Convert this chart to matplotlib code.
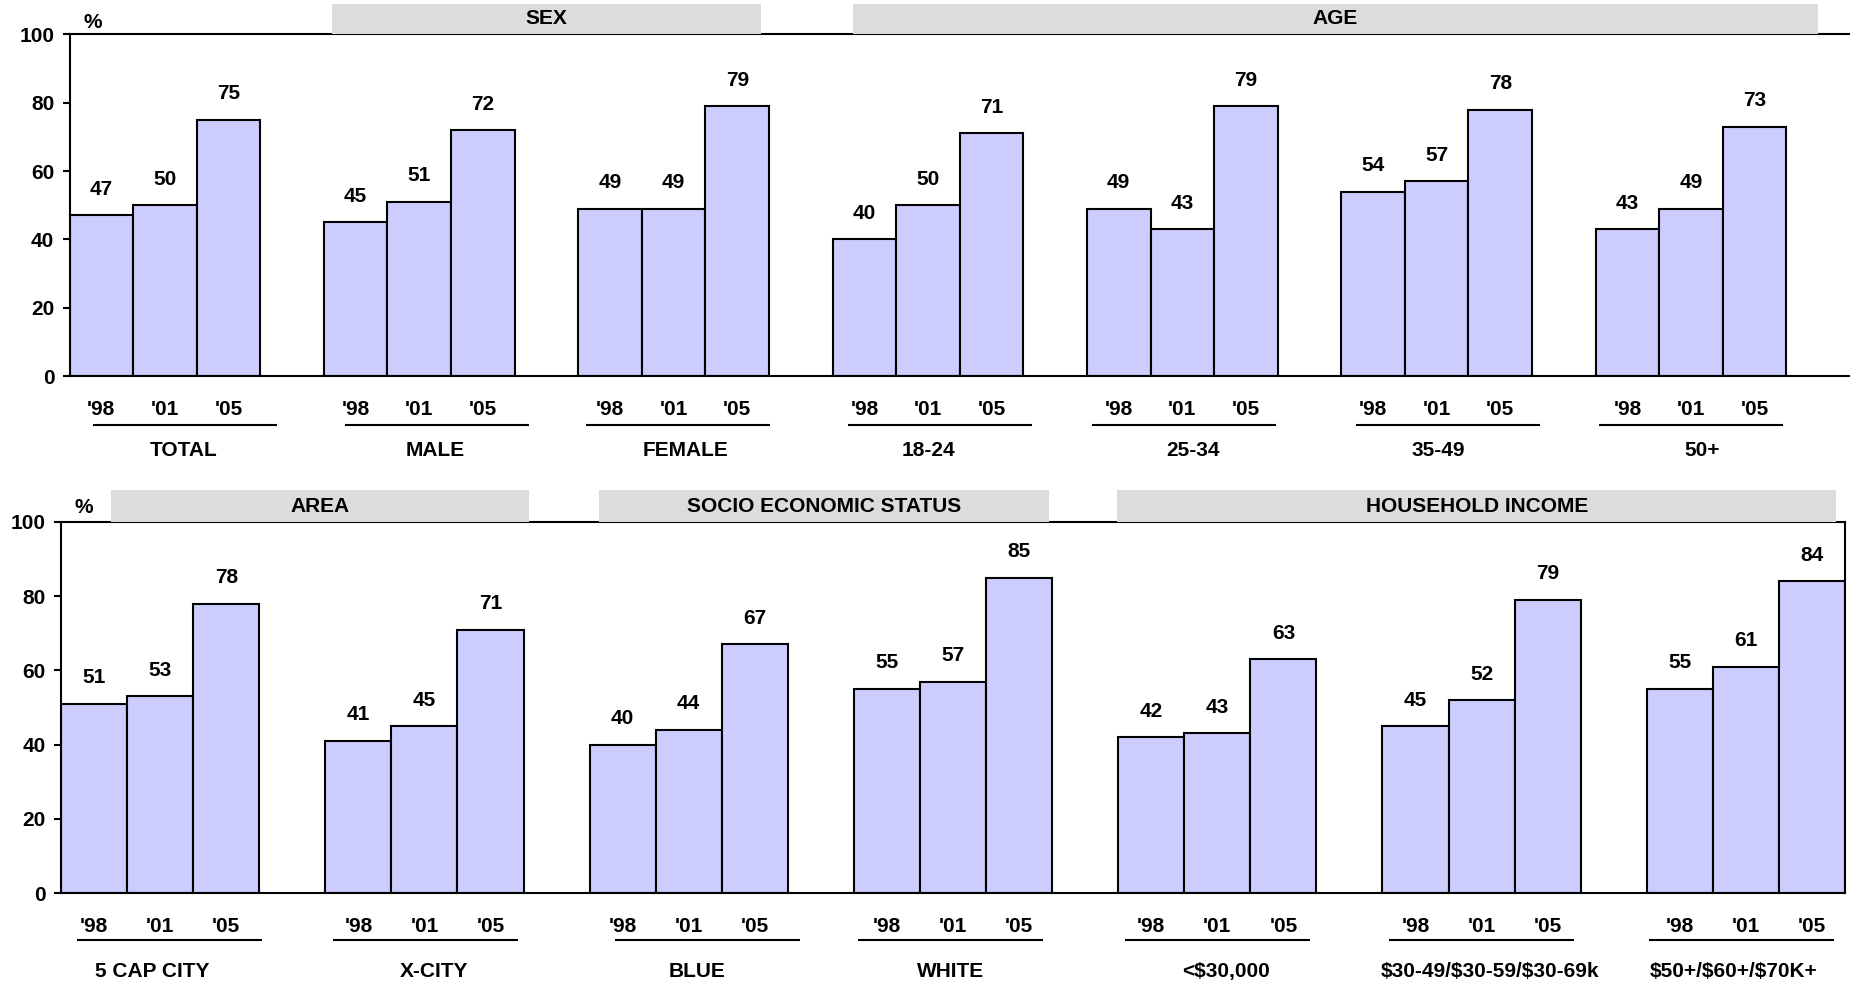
import matplotlib
matplotlib.use("Agg")
import matplotlib.pyplot as plt
from matplotlib.patches import Rectangle

plt.rcParams["font.family"] = ["Liberation Sans", "DejaVu Sans"]
plt.rcParams["font.weight"] = "bold"
plt.rcParams["text.parse_math"] = False

# ---- data ----
years = ["'98", "'01", "'05"]

top_groups = ["TOTAL", "MALE", "FEMALE", "18-24", "25-34", "35-49", "50+"]
top_98 = [47, 45, 49, 40, 49, 54, 43]
top_01 = [50, 51, 49, 50, 43, 57, 49]
top_05 = [75, 72, 79, 71, 79, 78, 73]
top_headers = ["SEX", "AGE"]

bottom_groups = ["5 CAP CITY", "X-CITY", "BLUE", "WHITE", "<$30,000",
                 "$30-49/$30-59/$30-69k", "$50+/$60+/$70K+"]
bot_98 = [51, 41, 40, 55, 42, 45, 55]
bot_01 = [53, 45, 44, 57, 43, 52, 61]
bot_05 = [78, 71, 67, 85, 63, 79, 84]
bottom_headers = ["AREA", "SOCIO ECONOMIC STATUS", "HOUSEHOLD INCOME"]

# ---- layout (in bar-width units / value units) ----
top_header_spans = [(4.13, 10.87), (12.32, 27.49)]
bottom_header_spans = [(0.76, 7.08), (8.14, 14.95), (15.98, 26.87)]
top_underline_start = [0.37, 0.33, 0.12, 0.24, 0.08, 0.23, 0.05]
top_label_center = [1.79, 1.75, 1.69, 1.50, 1.66, 1.53, 1.67]
bottom_underline_start = [0.24, 0.12, 0.39, 0.06, 0.11, 0.10, 0.04]
bottom_label_center = [1.38, 1.64, 1.63, 1.47, 1.63, 1.63, 1.32]

BAR_COLOR = "#CCCCFF"
BOX_COLOR = "#DCDCDC"
FS = 15

fig = plt.figure(figsize=(18.5, 9.81), dpi=100)
ax_top = fig.add_axes([0.0376, 0.6167, 0.9624, 0.3483])
ax_bot = fig.add_axes([0.0330, 0.0897, 0.9643, 0.3782])


def draw_panel(ax, groups, series, headers, spans, ul_start, ul_len, lab_c,
               xmax, year_y, ul_y, cat_y, box_top, pct_xy, right_spine):
    for j, vals in enumerate(series):
        xs = [4 * g + j + 0.5 for g in range(len(groups))]
        bars = ax.bar(xs, vals, width=1.0, color=BAR_COLOR,
                      edgecolor="black", linewidth=1.5, zorder=2)
        for b, v in zip(bars, vals):
            ax.annotate(str(v), (b.get_x() + b.get_width() / 2, v),
                        xytext=(0, 18.7), textcoords="offset points",
                        ha="center", va="center", fontsize=FS,
                        fontweight="bold")
        for x in xs:
            ax.text(x, year_y, years[j], ha="center", va="center",
                    fontsize=FS, fontweight="bold", clip_on=False)
    for g, name in enumerate(groups):
        x0 = 4 * g + ul_start[g]
        ax.plot([x0, x0 + ul_len], [ul_y, ul_y], color="black", lw=1.5,
                clip_on=False, solid_capstyle="butt")
        ax.text(4 * g + lab_c[g], cat_y, name, ha="center", va="center",
                fontsize=FS, fontweight="bold", clip_on=False)
    for name, (a, b) in zip(headers, spans):
        ax.add_patch(Rectangle((a, 100), b - a, box_top - 100,
                               facecolor=BOX_COLOR, edgecolor="none",
                               clip_on=False, zorder=4))
        ax.text((a + b) / 2, (100 + box_top) / 2, name, ha="center",
                va="center", fontsize=FS, fontweight="bold", zorder=5,
                clip_on=False)
    ax.text(pct_xy[0], pct_xy[1], "%", ha="center", va="center",
            fontsize=FS, fontweight="bold", clip_on=False)

    ax.set_xlim(0, xmax)
    ax.set_ylim(0, 100)
    ax.set_yticks(range(0, 101, 20))
    ax.set_xticks([])
    ax.tick_params(axis="y", direction="out", length=5, width=1.5,
                   labelsize=FS, pad=6)
    for lab in ax.get_yticklabels():
        lab.set_fontweight("bold")
    for s in ["left", "bottom", "top"]:
        ax.spines[s].set_linewidth(1.5)
    ax.spines["right"].set_visible(right_spine)
    ax.spines["right"].set_linewidth(1.5)
    ax.patch.set_alpha(0)


draw_panel(ax_top, top_groups, [top_98, top_01, top_05], top_headers,
           top_header_spans, top_underline_start, 2.9, top_label_center,
           28, -9.66, -14.34, -21.7, 109.0, (0.37, 103.6), False)
draw_panel(ax_bot, bottom_groups, [bot_98, bot_01, bot_05], bottom_headers,
           bottom_header_spans, bottom_underline_start, 2.8,
           bottom_label_center, 27, -9.16, -12.67, -21.2, 108.6,
           (0.35, 104.0), True)

fig.savefig("out.png", dpi=100)
